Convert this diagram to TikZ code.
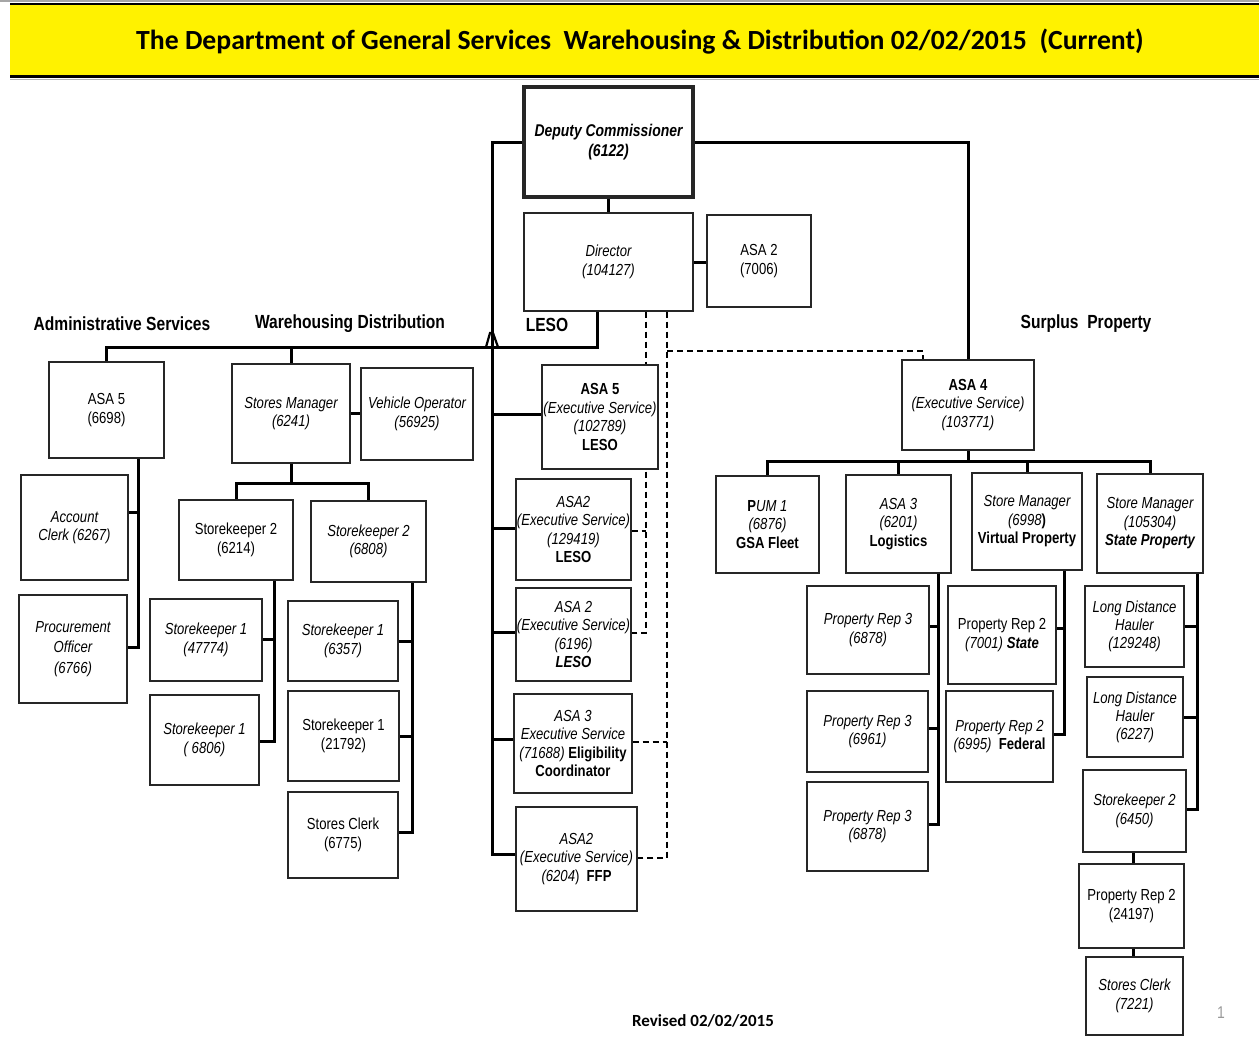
\documentclass[tikz,border=0pt]{standalone}
\usepackage{fontspec}
\newfontfamily\nar[FakeStretch=0.82]{Liberation Sans}
\newfontfamily\calfont{Carlito}
\usetikzlibrary{backgrounds}
\tikzset{
  box/.style={draw=black!85, line width=1.3pt, fill=white, inner sep=0pt, align=center,
    font=\nar\fontsize{16}{18.5}\selectfont},
  conn/.style={line width=3pt},
  dconn/.style={line width=2.8pt, dash pattern=on 6pt off 4pt},
  head/.style={font=\nar\bfseries\fontsize{19}{22}\selectfont, inner sep=0pt}
}
\newcommand{\bx}[7][]{\node[box,minimum width={#5-#3},minimum height={#6-#4},#1] (#2) at ({(#3+#5)/2},{(#4+#6)/2}) {#7};}
\begin{document}
\begin{tikzpicture}[x=1pt,y=-1pt]
\useasboundingbox (0,0) rectangle (1259,1039);
% title band
\fill[black!35] (0,0) rectangle (1259,2);
\fill[yellow] (10,4) rectangle (1259,77);
\draw[line width=2pt] (10,4) -- (1259,4);
\draw[line width=3pt] (10,76.5) -- (1259,76.5);
\draw[black!30, line width=1pt] (10,79) -- (1259,79);
\node[font=\calfont\bfseries\fontsize{27.7}{32}\selectfont, inner sep=0pt] (title) at (640,42) {The Department of General Services\ \ Warehousing \& Distribution 02/02/2015\ \ (Current)};

% boxes
\bx[line width=3.2pt, font=\nar\bfseries\itshape\fontsize{17}{20}\selectfont]{dep}{524}{87}{693}{197}{Deputy Commissioner\\(6122)}
\bx{dir}{524}{213}{693}{311}{\itshape Director\\\itshape(104127)}
\bx{asa2t}{707}{215}{811}{307}{ASA 2\\(7006)}
\bx{adm}{49}{362}{164}{458}{ASA 5\\(6698)}
\bx{acc}{21}{475}{128}{580}{\itshape Account\\\itshape Clerk (6267)}
\bx[font=\nar\itshape\fontsize{16}{20.5}\selectfont]{proc}{19}{595}{127}{703}{Procurement\\Officer\\(6766)}
\bx{sm}{232}{364}{350}{463}{\itshape Stores Manager\\\itshape(6241)}
\bx{vo}{361}{368}{473}{460}{\itshape Vehicle Operator\\\itshape(56925)}
\bx{skA}{179}{500}{293}{580}{Storekeeper 2\\(6214)}
\bx{skB}{311}{501}{426}{582}{\itshape Storekeeper 2\\\itshape(6808)}
\bx{sk1a}{150}{599}{262}{681}{\itshape Storekeeper 1\\\itshape(47774)}
\bx{sk1b}{150}{695}{259}{785}{\itshape Storekeeper 1\\\itshape( 6806)}
\bx{sk1c}{288}{601}{398}{681}{\itshape Storekeeper 1\\\itshape(6357)}
\bx{sk1d}{288}{691}{399}{781}{Storekeeper 1\\(21792)}
\bx{sc1}{288}{792}{398}{878}{Stores Clerk\\(6775)}
\bx{asa5l}{542}{365}{658}{469}{\bfseries ASA 5\\\itshape(Executive Service)\\\itshape(102789)\\\bfseries LESO}
\bx{asa2b}{516}{479}{631}{580}{\itshape ASA2\\\itshape(Executive Service)\\\itshape(129419)\\\bfseries LESO}
\bx{asa2c}{516}{588}{631}{681}{\itshape ASA 2\\\itshape(Executive Service)\\\itshape(6196)\\\bfseries\itshape LESO}
\bx{asa3c}{514}{694}{632}{793}{\itshape ASA 3\\\itshape Executive Service\\\textit{(71688)}\ \textbf{Eligibility}\\\bfseries Coordinator}
\bx{ffp}{516}{807}{637}{911}{\itshape ASA2\\\itshape(Executive Service)\\\textit{(6204})\ \ \textbf{FFP}}
\bx{asa4}{902}{360}{1034}{450}{\bfseries ASA 4\\\itshape(Executive Service)\\\itshape(103771)}
\bx{pum}{716}{476}{819}{573}{\textbf{P}\textit{UM 1}\\\itshape(6876)\\\bfseries GSA Fleet}
\bx{asa3r}{846}{475}{951}{573}{\itshape ASA 3\\\itshape(6201)\\\bfseries Logistics}
\bx{smv}{972}{473}{1082}{570}{\itshape Store Manager\\\textit{(6998}\textbf{)}\\\bfseries Virtual Property}
\bx{sms}{1097}{474}{1203}{573}{\itshape Store Manager\\\itshape(105304)\\\bfseries\itshape State Property}
\bx{pr3a}{807}{586}{929}{674}{\itshape Property Rep 3\\\itshape(6878)}
\bx{pr3b}{807}{691}{928}{772}{\itshape Property Rep 3\\\itshape(6961)}
\bx{pr3c}{807}{782}{928}{871}{\itshape Property Rep 3\\\itshape(6878)}
\bx{pr2s}{948}{586}{1056}{684}{Property Rep 2\\\textit{(7001)}\ \textbf{\textit{State}}}
\bx{pr2f}{946}{691}{1053}{782}{\itshape Property Rep 2\\\textit{(6995)}\ \ \textbf{Federal}}
\bx[font=\nar\itshape\fontsize{16}{18}\selectfont]{ldh1}{1085}{586}{1184}{667}{Long Distance\\Hauler\\(129248)}
\bx[font=\nar\itshape\fontsize{16}{18}\selectfont]{ldh2}{1087}{677}{1183}{757}{Long Distance\\Hauler\\(6227)}
\bx{sk6450}{1083}{770}{1186}{852}{\itshape Storekeeper 2\\\itshape(6450)}
\bx{pr24}{1079}{864}{1184}{948}{Property Rep 2\\(24197)}
\bx{sc7221}{1086}{957}{1183}{1035}{\itshape Stores Clerk\\\itshape(7221)}

% headings
\node[head] (hadm) at (122,324) {Administrative Services};
\node[head] (hwar) at (350,324) {Warehousing Distribution};
\node[head] (hleso) at (547,325) {LESO};
\node[head] (hsur) at (1086,324) {Surplus\ \ Property};
\node[font=\calfont\bfseries\fontsize{17}{20}\selectfont, inner sep=0pt] (rev) at (703,1021) {Revised 02/02/2015};
\node[font=\nar\fontsize{17}{20}\selectfont, text=black!40, inner sep=0pt] (pg) at (1221,1013) {1};

\begin{pgfonlayer}{background}
% spine from deputy
\coordinate (spine) at (492,854);
\draw[conn] (dep.west) -| (spine) -- (spine -| ffp.west);
\draw[conn] (asa5l.west |- 0,414) -- (spine |- 0,414);
\draw[conn] (asa2b.west |- 0,528) -- (spine |- 0,528);
\draw[conn] (asa2c.west |- 0,632) -- (spine |- 0,632);
\draw[conn] (asa3c.west |- 0,739) -- (spine |- 0,739);
\draw[conn] (dep.east) -| (asa4.north);
\draw[conn] (dep.south) -- (dir.north);
\draw[conn] (dir.east) -- (dir.east -| asa2t.west);
% warehousing / admin bus
\coordinate (wbus) at (597,347);
\draw[conn] (dir.south -| wbus) -- (wbus) -| (adm.north);
\draw[conn] (sm.north) -- (sm.north |- wbus);
\draw[line width=2.2pt] (486,347) -- (490,333) -- (493,333) -- (498,347);
\draw[conn] (sm.east) -- (sm.east -| vo.west);
\coordinate (skbus) at (291,483);
\draw[conn] (sm.south) -- (skbus);
\draw[conn] (skA.north) |- (skbus) -| (skB.north);
\coordinate (admv) at (138,647);
\draw[conn] (adm.south -| admv) -- (admv) -- (admv -| proc.east);
\draw[conn] (acc.east |- 0,512) -- (admv |- 0,512);
\coordinate (v1) at (274,741);
\draw[conn] (skA.south -| v1) -- (v1) -- (v1 -| sk1b.east);
\draw[conn] (sk1a.east |- 0,639) -- (v1 |- 0,639);
\coordinate (v2) at (412,832);
\draw[conn] (skB.south -| v2) -- (v2) -- (v2 -| sc1.east);
\draw[conn] (sk1c.east |- 0,641) -- (v2 |- 0,641);
\draw[conn] (sk1d.east |- 0,736) -- (v2 |- 0,736);
% dashed
\coordinate (d1) at (646,633);
\draw[dconn] (dir.south -| d1) -- (d1) -- (d1 -| asa2c.east);
\draw[dconn] (asa2b.east |- 0,531) -- (d1 |- 0,531);
\coordinate (d2) at (667,858);
\draw[dconn] (dir.south -| d2) -- (d2) -- (d2 -| ffp.east);
\draw[dconn] (asa3c.east |- 0,742) -- (d2 |- 0,742);
\draw[dconn] (d2 |- 0,351) -| (asa4.north -| 923,0);
% surplus
\coordinate (rbus) at (968,461);
\draw[conn] (asa4.south) -- (rbus);
\draw[conn] (pum.north) |- (rbus) -| (sms.north);
\draw[conn] (asa3r.north) -- (asa3r.north |- rbus);
\draw[conn] (smv.north) -- (smv.north |- rbus);
\coordinate (v3) at (938,824);
\draw[conn] (asa3r.south -| v3) -- (v3) -- (v3 -| pr3c.east);
\draw[conn] (pr3a.east |- 0,626) -- (v3 |- 0,626);
\draw[conn] (pr3b.east |- 0,728) -- (v3 |- 0,728);
\coordinate (v4) at (1064,734);
\draw[conn] (smv.south -| v4) -- (v4) -- (v4 -| pr2f.east);
\draw[conn] (pr2s.east |- 0,628) -- (v4 |- 0,628);
\coordinate (v5) at (1197,809);
\draw[conn] (sms.south -| v5) -- (v5) -- (v5 -| sk6450.east);
\draw[conn] (ldh1.east |- 0,626) -- (v5 |- 0,626);
\draw[conn] (ldh2.east |- 0,717) -- (v5 |- 0,717);
\draw[conn] (sk6450.south -| 1133,0) -- (pr24.north -| 1133,0);
\draw[conn] (pr24.south -| 1133,0) -- (sc7221.north -| 1133,0);
\end{pgfonlayer}
\end{tikzpicture}
\end{document}
